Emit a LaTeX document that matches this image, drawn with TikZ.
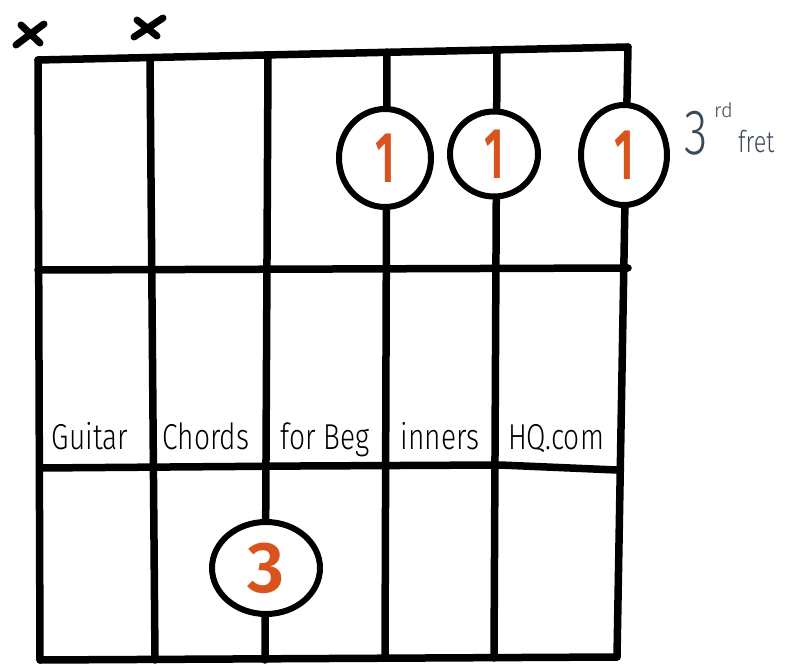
\documentclass[tikz,border=0pt]{standalone}
\usepackage{graphicx}
\usepackage{fontspec}
\setmainfont{Fira Sans}
\newfontfamily\handfont{Fira Sans Light}
\newfontfamily\digitfont{Fira Sans SemiBold}
\usetikzlibrary{shapes.geometric}
\definecolor{fingerorange}{HTML}{D9531E}
\definecolor{slateink}{HTML}{3A4A58}
\tikzset{
  ink/.style={line width=7.5pt, line cap=round, line join=round, black},
  finger/.style={ellipse, draw=black, line width=6pt, fill=white, inner sep=0pt,
    text=fingerorange, font=\digitfont\fontsize{72}{72}\selectfont},
  xmark/.style={line width=7pt, line cap=round},
  cellnote/.style={font=\handfont\fontsize{36}{36}\selectfont, anchor=base, inner sep=0pt},
}
\newcommand{\narrow}[1]{\scalebox{0.78}[1]{#1}}
\begin{document}
\begin{tikzpicture}[x=1pt, y=-1pt]
\useasboundingbox (0,0) rectangle (798,668);
% named corners / string ends
\coordinate (n1) at (38,60);
\coordinate (n6) at (628,47);
\coordinate (b1) at (40,660);
\coordinate (b6) at (617,657);
% nut and frets
\draw[ink] (n1) -- (n6);
\draw[ink] (38,270) -- (628,268);
\draw[ink] (40,468) -- (300,466) -- (500,465) -- (617,470);
\draw[ink] (b1) -- (b6);
% strings
\draw[ink] (n1) -- (b1);
\coordinate (s2t) at (150,58); \coordinate (s2b) at (155,660);
\coordinate (s3t) at (268,58); \coordinate (s3b) at (265,660);
\coordinate (s4t) at (387,52); \coordinate (s4b) at (385,658);
\coordinate (s5t) at (497,50); \coordinate (s5b) at (494,658);
\draw[ink] (s2t) -- (s2b);
\draw[ink] (s3t) -- (s3b);
\draw[ink] (s4t) -- (s4b);
\draw[ink] (s5t) -- (s5b);
\draw[ink] (n6) -- (625,200) -- (b6);
% muted strings
\draw[xmark] (16,45) -- (44,24) (21,25) -- (40,43);
\draw[xmark] (134,37) -- (163,18) (137,20) -- (157,36);
% finger dots
\node[finger, minimum width=92pt, minimum height=98pt] (f1) at (385,158) {\scalebox{0.6}[1]{1}};
\node[finger, minimum width=88pt, minimum height=85pt] (f2) at (494,154) {\scalebox{0.6}[1]{1}};
\node[finger, minimum width=86pt, minimum height=100pt] (f3) at (624,155) {\scalebox{0.6}[1]{1}};
\node[finger, minimum width=108pt, minimum height=92pt] (f4) at (266,568) {3};
% fret label
\node[text=slateink, font=\handfont\fontsize{64}{64}\selectfont, anchor=base west, inner sep=0pt] (fr3) at (684,155) {\scalebox{0.75}[1]{3}};
\node[text=slateink, font=\handfont\fontsize{20}{20}\selectfont, anchor=base west, inner sep=0pt] (frsup) at (714,118) {rd};
\node[text=slateink, font=\handfont\fontsize{30}{30}\selectfont, anchor=base west, inner sep=0pt] (frfret) at (738,153) {\narrow{fret}};
% watermark text
\node[cellnote] (w1) at (90,449) {\narrow{Guitar}};
\node[cellnote] (w2) at (206,449) {\narrow{Chords}};
\node[cellnote] (w3) at (325,449) {\narrow{for Beg}};
\node[cellnote] (w4) at (440,449) {\narrow{inners}};
\node[cellnote] (w5) at (556,449) {\narrow{HQ.com}};
\end{tikzpicture}
\end{document}
